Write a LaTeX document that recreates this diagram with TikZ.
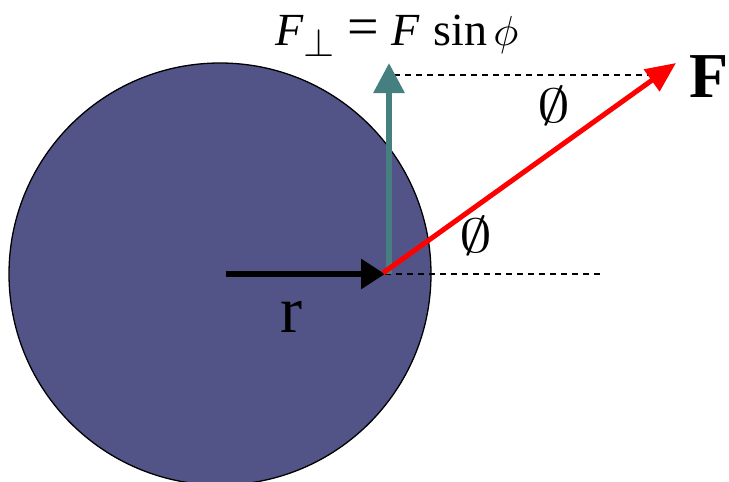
\documentclass[tikz,border=0pt]{standalone}
\usepackage{fontspec}
\usepackage{graphicx}
\setmainfont{Liberation Serif}
\usetikzlibrary{arrows.meta}
\definecolor{discfill}{RGB}{82,84,136}
\definecolor{tealarrow}{RGB}{69,127,128}
\definecolor{redarrow}{RGB}{255,0,0}
\newcommand{\scmath}[3]{\scalebox{#1}[#2]{\fontsize{10}{12}\selectfont$#3$}}
\tikzset{
  guide/.style={draw=black, line width=1.2pt, dash pattern=on 6pt off 5pt},
  lbl/.style={inner sep=0pt, outer sep=0pt},
}
\begin{document}
\begin{tikzpicture}[x=1pt,y=-1pt]
\useasboundingbox (0,0) rectangle (729,482);
\begin{scope}
\clip (0,0) rectangle (729,482);
% disc
\node[circle, draw=black, line width=1.3pt, fill=discfill, minimum size=422pt, inner sep=0pt] (disc) at (220,274) {};
\coordinate (c) at (226,274);
\coordinate (p) at (385,274);
\coordinate (ptop) at (389,63);
\coordinate (ftip) at (676,63);
\coordinate (hend) at (600,274);
\coordinate (tl) at (383,75);
\coordinate (tr) at (662,75);
% dashed guides
\draw[guide] (p) -- (hend);
\draw[guide] (tl) -- (tr);
% r arrow
\draw[line width=6pt, -{Triangle[length=24pt,width=29pt]}] (c) -- (p);
% teal arrow
\draw[tealarrow, line width=6pt, -{Triangle[length=30pt,width=30pt]}] (389,274) -- (ptop);
% red arrow
\draw[redarrow, line width=5pt, -{Triangle[length=30pt,width=26pt]}] (383,273) -- (ftip);
% labels
\node[lbl, anchor=base west, font=\fontsize{46}{50}\selectfont] (eq) at (275,45)
  {\textit{F}\raisebox{-11pt}{\scmath{4}{4}{\perp}}\hspace{13pt}{\fontsize{56}{58}\selectfont=}\hspace{12pt}\textit{F}\hspace{14pt}sin\hspace{6pt}\scmath{4.2}{4.2}{\phi}};
\node[lbl, anchor=base, font=\fontsize{66}{70}\selectfont] (r) at (291,332) {r};
\node[lbl] (phia) at (476,236) {\scmath{6.6}{4.8}{\emptyset}};
\node[lbl] (phib) at (554,106) {\scmath{6.6}{4.8}{\emptyset}};
\node[lbl, anchor=base east, font=\fontsize{64}{70}\selectfont\bfseries] (F) at (729,97) {F};
\end{scope}
\end{tikzpicture}
\end{document}
